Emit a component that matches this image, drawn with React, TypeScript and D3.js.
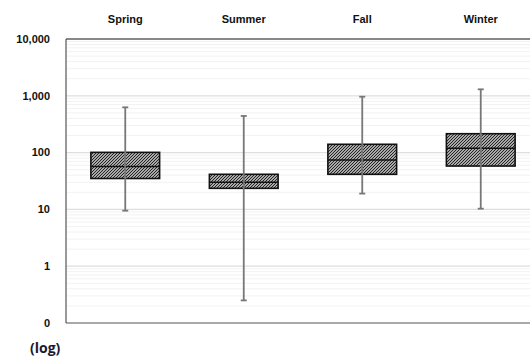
import React, { useRef, useEffect } from "react";
import * as d3 from "d3";

// categories & box stats
const seasons = ["Spring", "Summer", "Fall", "Winter"];
const whiskerLow = [9.5, 0.25, 19, 10.3];
const q1 = [35, 23.5, 41.5, 58];
const median = [57, 30, 74, 119];
const q3 = [101, 41.5, 140, 215];
const whiskerHigh = [627, 441, 964, 1300];
const tickValues = [0.1, 1, 10, 100, 1000, 10000];
const tickLabels = ["0", "1", "10", "100", "1,000", "10,000"];

const W = 530, H = 359;
const margin = { left: 66, top: 39, right: -10, bottom: 36 };

const App = () => {
  const svgRef = useRef<SVGSVGElement>(null);

  useEffect(() => {
    const svg = d3.select(svgRef.current);
    svg.selectAll("*").remove();

    const y = d3.scaleLog().domain([0.1, 10000]).range([H - margin.bottom, margin.top]);
    const x = d3.scaleBand().domain(seasons).range([margin.left, W - margin.right]).paddingInner(0.42).paddingOuter(0.21);

    // hatch pattern (dense diagonal)
    const defs = svg.append("defs");
    const pat = defs.append("pattern")
      .attr("id", "hatch")
      .attr("patternUnits", "userSpaceOnUse")
      .attr("width", 3).attr("height", 3);
    pat.append("rect").attr("width", 3).attr("height", 3).attr("fill", "#e2e2e2");
    pat.append("path")
      .attr("d", "M-1,1 L1,-1 M0,3 L3,0 M2,4 L4,2")
      .attr("stroke", "#1a1a1a").attr("stroke-width", 1.1);

    // gridlines: minor then major
    const minor: number[] = [];
    for (let e = -1; e < 4; e++) for (let k = 2; k <= 9; k++) minor.push(k * Math.pow(10, e));
    const grid = svg.append("g");
    grid.selectAll("line.minor").data(minor).enter().append("line")
      .attr("class", "minor")
      .attr("x1", margin.left).attr("x2", W)
      .attr("y1", d => y(d)).attr("y2", d => y(d))
      .attr("stroke", "#f2f2f2").attr("stroke-width", 1);
    grid.selectAll("line.major").data(tickValues.slice(1, 5)).enter().append("line")
      .attr("class", "major")
      .attr("x1", margin.left).attr("x2", W)
      .attr("y1", d => y(d)).attr("y2", d => y(d))
      .attr("stroke", "#dedede").attr("stroke-width", 1.2);

    // top border
    svg.append("line")
      .attr("x1", margin.left).attr("x2", W)
      .attr("y1", y(10000)).attr("y2", y(10000))
      .attr("stroke", "#888").attr("stroke-width", 2);
    // left + bottom axis lines
    svg.append("line")
      .attr("x1", margin.left).attr("x2", margin.left)
      .attr("y1", y(10000)).attr("y2", y(0.1))
      .attr("stroke", "#555").attr("stroke-width", 1.2);
    svg.append("line")
      .attr("x1", margin.left).attr("x2", W)
      .attr("y1", y(0.1)).attr("y2", y(0.1))
      .attr("stroke", "#555").attr("stroke-width", 1.2);

    // y labels
    svg.append("g").selectAll("text").data(tickValues).enter().append("text")
      .attr("x", 50).attr("y", d => y(d))
      .attr("dy", "0.35em")
      .attr("text-anchor", "end")
      .attr("font-family", "Liberation Sans, Arial, sans-serif")
      .attr("font-weight", "bold").attr("font-size", 11)
      .attr("fill", "#111")
      .text((_, i) => tickLabels[i]);

    // category labels on top
    svg.append("g").selectAll("text").data(seasons).enter().append("text")
      .attr("x", d => x(d)! + x.bandwidth() / 2).attr("y", 23)
      .attr("text-anchor", "middle")
      .attr("font-family", "Liberation Sans, Arial, sans-serif")
      .attr("font-weight", "bold").attr("font-size", 11)
      .attr("fill", "#111")
      .text(d => d);

    // boxes
    const boxes = svg.append("g");
    boxes.selectAll("rect").data(seasons).enter().append("rect")
      .attr("x", d => x(d)!)
      .attr("width", x.bandwidth())
      .attr("y", (_, i) => y(q3[i]))
      .attr("height", (_, i) => y(q1[i]) - y(q3[i]))
      .attr("fill", "url(#hatch)")
      .attr("stroke", "#111").attr("stroke-width", 1.6);
    boxes.selectAll("line.med").data(seasons).enter().append("line")
      .attr("class", "med")
      .attr("x1", d => x(d)!).attr("x2", d => x(d)! + x.bandwidth())
      .attr("y1", (_, i) => y(median[i])).attr("y2", (_, i) => y(median[i]))
      .attr("stroke", "#111").attr("stroke-width", 1.6);

    // whiskers
    const wh = svg.append("g");
    const cx = (d: string) => x(d)! + x.bandwidth() / 2;
    wh.selectAll("line.stem").data(seasons).enter().append("line")
      .attr("class", "stem")
      .attr("x1", cx).attr("x2", cx)
      .attr("y1", (_, i) => y(whiskerHigh[i])).attr("y2", (_, i) => y(whiskerLow[i]))
      .attr("stroke", "#777").attr("stroke-width", 1.8);
    [whiskerHigh, whiskerLow].forEach((arr, k) => {
      wh.selectAll(`line.cap${k}`).data(seasons).enter().append("line")
        .attr("class", `cap${k}`)
        .attr("x1", d => cx(d) - 3).attr("x2", d => cx(d) + 3)
        .attr("y1", (_, i) => y(arr[i])).attr("y2", (_, i) => y(arr[i]))
        .attr("stroke", "#777").attr("stroke-width", 1.8);
    });

    // "(log)" note
    svg.append("text")
      .attr("x", 30).attr("y", 353)
      .attr("font-family", "Open Sans, sans-serif")
      .attr("font-weight", "bold").attr("font-size", 14)
      .attr("fill", "#1a1a2e")
      .text("(log)");
  }, []);

  return (
    <svg ref={svgRef} width={W} height={H} style={{ position: "absolute", left: 0, top: 0, background: "#fff" }}>
    </svg>
  );
};

export default App;
